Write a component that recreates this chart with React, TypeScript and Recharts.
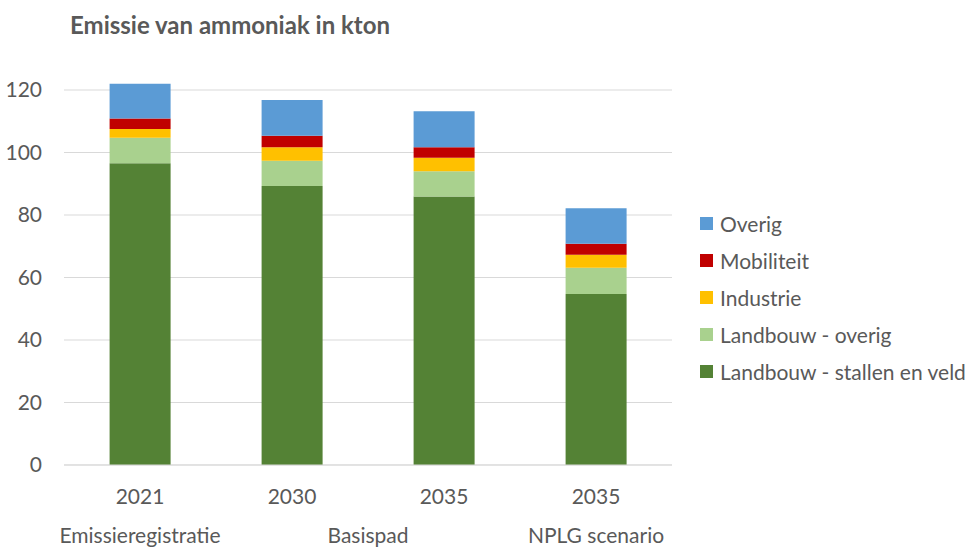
import React from "react";
import { BarChart, Bar, XAxis, YAxis, CartesianGrid, Legend } from "recharts";

const years = ["2021", "2030", "2035", "2035"];
const groups = ["Emissieregistratie", "Basispad", "", "NPLG scenario"];
const groupSpan = [1, 2, 0, 1];

const stallenVeld = [96.6, 89.3, 85.9, 54.7];
const landbouwOverig = [8.1, 8.1, 8.1, 8.4];
const industrie = [2.8, 4.3, 4.3, 4.2];
const mobiliteit = [3.4, 3.7, 3.4, 3.5];
const overig = [11.1, 11.4, 11.5, 11.4];

const yTicks = [0, 20, 40, 60, 80, 100, 120];

const series = [
  { key: "stallen", name: "Landbouw - stallen en veld", color: "#548235" },
  { key: "landOverig", name: "Landbouw - overig", color: "#A9D18E" },
  { key: "industrie", name: "Industrie", color: "#FFC000" },
  { key: "mobiliteit", name: "Mobiliteit", color: "#C00000" },
  { key: "overig", name: "Overig", color: "#5B9BD5" },
];

const data = years.map((year, i) => ({
  idx: i,
  year,
  stallen: stallenVeld[i],
  landOverig: landbouwOverig[i],
  industrie: industrie[i],
  mobiliteit: mobiliteit[i],
  overig: overig[i],
}));

const W = 966;
const H = 548;
const FONT = "Lato, 'Open Sans', sans-serif";
const TEXT = "#595959";
const PLOT_LEFT = 64;
const PLOT_RIGHT = 672;
const BAND = (PLOT_RIGHT - PLOT_LEFT) / years.length;

const XTick = (props: any) => {
  const { x, y, payload } = props;
  const i = payload.index;
  const span = groupSpan[i];
  const gx = x + ((span - 1) * BAND) / 2;
  return (
    <g>
      <text x={x} y={y + 31} textAnchor="middle" fill={TEXT} fontSize={21} fontFamily={FONT}>
        {years[i]}
      </text>
      {span > 0 && (
        <text x={gx} y={y + 70} textAnchor="middle" fill={TEXT} fontSize={21} fontFamily={FONT}>
          {groups[i]}
        </text>
      )}
    </g>
  );
};

const LegendContent = () => (
  <div style={{ fontFamily: FONT, fontSize: 21, color: TEXT }}>
    {[...series].reverse().map((s) => (
      <div key={s.key} style={{ display: "flex", alignItems: "center", height: 37 }}>
        <span
          style={{ width: 13, height: 13, background: s.color, display: "inline-block", marginRight: 7 }}
        />
        <span>{s.name}</span>
      </div>
    ))}
  </div>
);

export default function App() {
  return (
    <div style={{ position: "absolute", left: 0, top: 0, width: W, height: H, background: "#fff" }}>
      <div
        style={{
          position: "absolute",
          left: 70,
          top: 10,
          fontFamily: FONT,
          fontWeight: 700,
          fontSize: 24,
          color: TEXT,
        }}
      >
        Emissie van ammoniak in kton
      </div>
      <BarChart
        width={W}
        height={H}
        data={data}
        margin={{ top: 83.75, right: W - PLOT_RIGHT, bottom: 0, left: 0 }}
        barCategoryGap="30%"
      >
        <CartesianGrid vertical={false} stroke="#d9d9d9" strokeWidth={1} horizontalValues={yTicks} />
        <XAxis
          dataKey="idx"
          height={83}
          axisLine={{ stroke: "#d9d9d9" }}
          tickLine={false}
          tick={<XTick />}
          interval={0}
        />
        <YAxis
          width={PLOT_LEFT}
          domain={[0, 122]}
          ticks={yTicks}
          axisLine={false}
          tickLine={false}
          tickSize={0}
          tickMargin={22}
          tick={{ fill: TEXT, fontSize: 21, fontFamily: FONT }}
        />
        <Legend
          layout="horizontal"
          verticalAlign="middle"
          align="center"
          content={<LegendContent />}
          wrapperStyle={{ left: 700, top: 205, width: 266 }}
        />
        {series.map((s) => (
          <Bar
            key={s.key}
            dataKey={s.key}
            name={s.name}
            stackId="a"
            fill={s.color}
            isAnimationActive={false}
          />
        ))}
      </BarChart>
    </div>
  );
}
